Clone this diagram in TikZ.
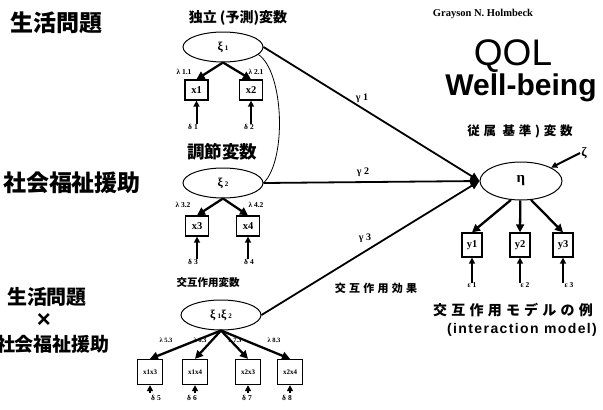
\documentclass[tikz,border=0pt]{standalone}
\usepackage{fontspec}
\setmainfont{Liberation Serif}
\setsansfont{Liberation Sans}
\newfontfamily\cjk{Noto Sans CJK JP}
\newfontfamily\cjks{Noto Sans CJK JP}[LetterSpace=30]
\newfontfamily\sfsp{Liberation Sans}[LetterSpace=10]
\usetikzlibrary{shapes.geometric,arrows.meta}
\begin{document}
\begin{tikzpicture}[x=1pt,y=-1pt,
  lat/.style={ellipse,draw,line width=1pt,minimum width=80pt,minimum height=30pt,inner sep=0pt,
    font=\bfseries\fontsize{12}{12}\selectfont},
  obs/.style={draw,line width=1.3pt,minimum width=23pt,minimum height=20pt,inner sep=0pt,
    font=\bfseries\fontsize{10.5}{10.5}\selectfont},
  obss/.style={obs,minimum width=25pt,minimum height=25pt,font=\bfseries\fontsize{7}{7}\selectfont},
  arr/.style={-{Triangle[length=8pt,width=8pt]},line width=2.3pt},
  darr/.style={-{Triangle[length=6pt,width=6pt]},line width=2pt},
  garr/.style={-{Triangle[length=9pt,width=8pt]},line width=1.8pt},
  lab/.style={font=\bfseries\fontsize{7.5}{8}\selectfont,inner sep=1pt},
  labs/.style={font=\bfseries\fontsize{6.5}{7}\selectfont,inner sep=1pt},
  glab/.style={font=\bfseries\fontsize{10}{10}\selectfont,inner sep=1pt},
  jp/.style={font=\cjk\bfseries\fontsize{#1}{#1}\selectfont,inner sep=0pt},
  jps/.style={font=\cjks\bfseries\fontsize{#1}{#1}\selectfont,inner sep=0pt}
]
\useasboundingbox (0,0) rectangle (603,410);
\fill[white] (0,0) rectangle (603,410);

% left side labels
\node[jp=23] (t1) at (56,23) {生活問題};
\node[jp=23] (t2) at (72,183) {社会福祉援助};
\node[jp=20] (t3) at (47,297) {生活問題};
\node[font=\sffamily\bfseries\fontsize{24}{24}\selectfont,inner sep=0pt] (t4) at (44,320) {×};
\node[jp=19] (t5) at (53,344) {社会福祉援助};

% headings
\node[jp=14] (h1) at (238,18) {独立 (予測)変数};
\node[jp=17.5] (h2) at (222,152) {調節変数};
\node[jp=10.5] (h3) at (208,283) {交互作用変数};
\node[jps=12.5] (h4) at (520,131) {従属 基準)変数};
\node[jps=11] (h5) at (376,288) {交互作用効果};
\node[jps=14,anchor=west] (h6) at (433,310) {交互作用モデルの例};
\node[font=\sfsp\bfseries\fontsize{14}{14}\selectfont,inner sep=0pt] (h7) at (522,330) {(interaction model)};
\node[font=\bfseries\fontsize{10.5}{10.5}\selectfont,inner sep=0pt] (au) at (483,14) {Grayson N. Holmbeck};
\node[font=\sffamily\fontsize{37}{37}\selectfont,inner sep=0pt] (qol) at (513,56) {QOL};
\node[font=\sffamily\bfseries\fontsize{30}{30}\selectfont,inner sep=0pt] (wb) at (521,88) {Well-being};

% xi 1
\node[lat] (xi1) at (223,47) {\raisebox{-4pt}{ξ\,{\fontsize{7}{7}\selectfont 1}}};
\node[obs] (x1) at (196.5,90) {x1};
\node[obs] (x2) at (251,90) {x2};
\node[lab] (l11) at (184,72) {λ 1.1};
\node[lab] (l21) at (256,72) {λ 2.1};
\draw[arr] (xi1.south) -- (x1.north);
\draw[arr] (xi1.south) -- (x2.north);
\node[lab] (d1) at (193,127) {δ 1};
\node[lab] (d2) at (249,127) {δ 2};
\draw[darr] ([yshift=-1pt]d1.north -| x1.south) -- (x1.south);
\draw[darr] ([yshift=-1pt]d2.north -| x2.south) -- (x2.south);

% xi 2
\node[lat] (xi2) at (223,183) {\raisebox{-4pt}{ξ\,{\fontsize{7}{7}\selectfont 2}}};
\node[obs] (x3) at (197,226) {x3};
\node[obs] (x4) at (248,226) {x4};
\node[lab] (l32) at (183,205) {λ 3.2};
\node[lab] (l42) at (256,205) {λ 4.2};
\draw[arr] (xi2.south) -- (x3.north);
\draw[arr] (xi2.south) -- (x4.north);
\node[lab] (d3) at (193,262) {δ 3};
\node[lab] (d4) at (249,262) {δ 4};
\draw[darr] ([yshift=-1pt]d3.north -| x3.south) -- (x3.south);
\draw[darr] ([yshift=-1pt]d4.north -| x4.south) -- (x4.south);

% correlation curve
\draw[line width=0.8pt] (xi1.-12) .. controls (284,72) and (287,160) .. (xi2.east);

% interaction
\node[lat] (xi3) at (221,315) {\raisebox{-4pt}{ξ\,{\fontsize{7}{7}\selectfont 1}ξ\,{\fontsize{7}{7}\selectfont 2}}};
\node[obss] (x5) at (150,372) {x1x3};
\node[obss] (x6) at (195,372) {x1x4};
\node[obss] (x7) at (248,372) {x2x3};
\node[obss] (x8) at (290,372) {x2x4};
\node[labs] (l53) at (166,340) {λ 5.3};
\node[labs] (l63) at (200,340) {λ 6.3};
\node[labs] (l73) at (235,340) {λ 7.3};
\node[labs] (l83) at (274,340) {λ 8.3};
\foreach \b in {x5,x6,x7,x8} \draw[arr] (xi3.south) -- (\b.north);
\node[lab] (d5) at (156,398) {δ 5};
\node[lab] (d6) at (192,398) {δ 6};
\node[lab] (d7) at (247,398) {δ 7};
\node[lab] (d8) at (287,398) {δ 8};
\draw[darr] ([yshift=1pt]d5.north -| x5.south) -- (x5.south);
\draw[darr] ([yshift=1pt]d6.north -| x6.south) -- (x6.south);
\draw[darr] ([yshift=1pt]d7.north -| x7.south) -- (x7.south);
\draw[darr] ([yshift=1pt]d8.north -| x8.south) -- (x8.south);

% eta
\node[lat,minimum width=82pt,minimum height=38pt,font=\bfseries\fontsize{15}{15}\selectfont] (eta) at (521,181) {η};
\node[obs,minimum width=20pt,minimum height=24pt] (y1) at (472,245) {y1};
\node[obs,minimum width=20pt,minimum height=24pt] (y2) at (520,245) {y2};
\node[obs,minimum width=20pt,minimum height=24pt] (y3) at (563,245) {y3};
\draw[arr] (eta.-118) -- (y1.north);
\draw[arr] (eta.-92) -- (y2.north);
\draw[arr] (eta.-62) -- (y3.north);
\node[lab] (e1) at (472,285) {ε 1};
\node[lab] (e2) at (525,285) {ε 2};
\node[lab] (e3) at (569,285) {ε 3};
\draw[darr] ([yshift=-2pt]e1.north -| y1.south) -- (y1.south);
\draw[darr] ([yshift=-2pt]e2.north -| y2.south) -- (y2.south);
\draw[darr] ([yshift=-2pt]e3.north -| y3.south) -- (y3.south);
\node[font=\bfseries\fontsize{13}{13}\selectfont,inner sep=1pt] (zeta) at (584,153) {ζ};
\draw[darr] (zeta.west) -- (eta.24);

% structural paths
\draw[garr] (xi1.east) -- (eta.west);
\draw[garr] (xi2.east) -- (eta.west);
\draw[garr] (xi3.east) -- (eta.west);
\node[glab] (g1) at (362,98) {γ 1};
\node[glab] (g2) at (363,172) {γ 2};
\node[glab] (g3) at (365,238) {γ 3};
\end{tikzpicture}
\end{document}
